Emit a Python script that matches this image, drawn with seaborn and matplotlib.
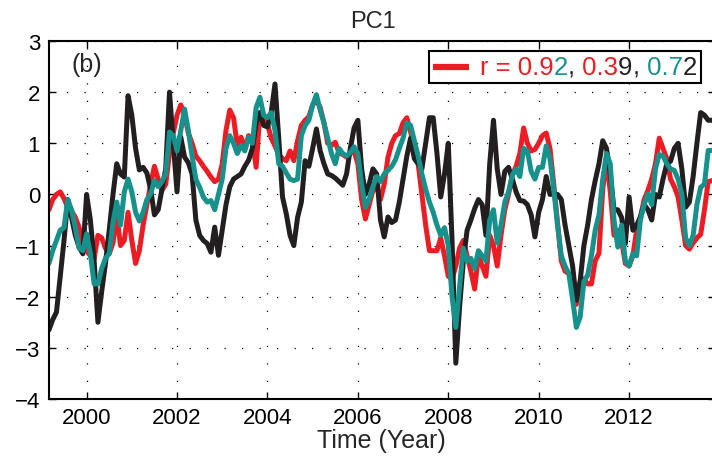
import numpy as np
import pandas as pd
import matplotlib
matplotlib.use("Agg")
import matplotlib.pyplot as plt
import seaborn as sns
from matplotlib.lines import Line2D
from matplotlib.offsetbox import AnchoredOffsetbox, HPacker, TextArea, DrawingArea

# ---- data (monthly, starting March 1999) ----
start_year = 1999 + 2 / 12

pc_black = [
    -2.65, -2.45, -2.3, -1.6, -0.9, -0.1, -0.45, -0.8, -1.03, -1.16,
    0.0, -0.5, -1.3, -2.5, -1.9, -1.35, -0.7, 0.0, 0.6, 0.4,
    0.34, 1.93, 1.55, 0.9, 0.48, 0.53, 0.42, 0.1, -0.4, -0.3,
    0.1, 0.5, 2.0, 1.0, 0.05, 1.12, 0.73, 0.62, 0.4, -0.5,
    -0.8, -0.9, -0.96, -1.13, -0.64, -1.19, -0.7, -0.2, 0.15, 0.3,
    0.35, 0.4, 0.55, 0.67, 0.9, 1.4, 1.6, 1.35, 1.32, 1.6,
    2.16, 1.1, -0.05, -0.38, -0.8, -1.0, -0.45, -0.15, 0.66, 0.55,
    0.9, 1.28, 0.85, 0.6, 0.4, 0.37, 0.32, 0.25, 0.18, 0.4,
    0.9, 1.3, 1.45, 0.5, 0.0, 0.2, 0.5, 0.4, -0.5, -0.83,
    -0.44, -0.55, -0.5, -0.15, 0.3, 0.75, 1.1, 0.7, 0.6, 0.5,
    1.0, 1.5, 1.5, 0.8, -0.05, 0.4, 1.0, -0.9, -3.3, -2.2,
    -1.3, -0.7, -0.5, -0.28, -0.1, -0.2, -0.8, 0.6, 1.45, 0.5,
    0.0, 0.45, 0.53, 0.3, 0.05, -0.12, -0.13, -0.2, -0.4, -0.83,
    -0.35, -0.1, 0.35, 0.0, 0.01, 0.0, -0.1, -0.6, -1.0, -1.4,
    -2.07, -1.7, -1.0, -0.6, -0.1, 0.27, 0.6, 1.05, 0.9, 0.4,
    -0.3, -0.3, -0.45, -0.96, -0.05, -0.7, -0.6, -0.44, -0.2, -0.3,
    -0.5, 0.0, -0.05, 0.3, 0.6, 0.65, 0.9, 1.0, 0.5, -0.25,
    -0.15, 0.35, 1.0, 1.6, 1.55, 1.45, 1.45,
]

pc_red = [
    -0.3, -0.1, 0.0, 0.05, -0.08, -0.25, -0.32, -0.45, -0.64, -1.0,
    -1.1, -1.2, -1.26, -0.8, -0.85, -1.05, -1.16, -0.95, -0.4, -1.0,
    -0.9, -0.35, -0.9, -1.35, -1.1, -0.6, -0.2, 0.2, 0.55, 0.3,
    0.08, 0.2, 0.8, 1.2, 1.55, 1.75, 1.55, 1.2, 1.0, 0.75,
    0.66, 0.55, 0.45, 0.34, 0.25, 0.3, 0.6, 1.25, 1.65, 1.5,
    0.95, 1.12, 0.9, 1.15, 1.06, 0.53, 1.6, 1.55, 1.38, 1.1,
    0.95, 0.78, 0.7, 0.66, 0.85, 0.66, 1.05, 1.35, 1.45, 1.52,
    1.75, 1.85, 1.7, 1.4, 1.0, 0.96, 1.02, 0.82, 0.78, 0.73,
    0.8, 0.85, 0.6, -0.1, -0.48, -0.2, 0.08, 0.14, -0.1, 0.2,
    0.73, 1.0, 1.15, 1.19, 1.4, 1.5, 1.22, 0.95, 0.6, 0.0,
    -0.6, -1.1, -1.1, -1.1, -0.85, -1.2, -1.6, -1.65, -1.4, -1.05,
    -0.9, -1.2, -1.5, -1.85, -1.2, -1.4, -1.6, -0.8, -1.0, -1.4,
    -0.8, -0.3, 0.0, 0.38, 0.55, 0.8, 1.3, 1.0, 0.85, 0.88,
    1.0, 1.15, 1.2, 0.9, 0.2, -0.55, -1.3, -1.5, -1.55, -1.75,
    -2.15, -1.7, -1.65, -1.75, -1.75, -1.3, -1.15, 0.1, 0.7, 0.05,
    -0.8, -0.7, -0.9, -1.35, -1.4, -1.2, -0.7, -0.45, -0.1, 0.08,
    0.3, 0.6, 1.1, 0.9, 0.7, 0.3, 0.15, -0.05, -0.5, -1.0,
    -1.07, -0.95, -0.85, -0.78, -0.3, 0.25, 0.27,
]

pc_teal = [
    -1.35, -1.1, -0.9, -0.7, -0.65, -0.1, -0.3, -0.65, -1.05, -1.1,
    -0.77, -1.16, -1.75, -1.75, -1.45, -1.25, -1.16, -0.55, -0.15, -0.6,
    0.05, 0.3, 0.05, -0.35, -0.52, -0.35, -0.1, 0.01, 0.27, 0.15,
    0.25, 0.4, 1.22, 1.15, 0.85, 1.25, 1.67, 1.25, 0.75, 0.3,
    0.14, -0.05, -0.15, -0.12, -0.3, 0.0, 0.3, 0.9, 1.15, 1.0,
    0.8, 0.96, 0.85, 1.12, 1.0, 1.7, 1.9, 1.55, 1.5, 1.6,
    1.25, 0.6, 0.55, 0.42, 0.3, 0.27, 0.3, 1.15, 1.35, 1.45,
    1.75, 1.95, 1.65, 1.4, 1.1, 0.8, 0.6, 0.9, 0.8, 0.75,
    0.82, 0.93, 0.8, 0.2, -0.25, -0.1, 0.15, 0.35, 0.25, 0.4,
    0.47, 0.55, 0.68, 0.9, 1.1, 1.4, 1.35, 1.05, 0.75, 0.4,
    0.1, -0.15, -0.35, -0.6, -0.8, -0.65, -1.0, -2.0, -2.6, -1.8,
    -1.05, -1.3, -1.25, -1.45, -1.1, -1.2, -1.3, -0.5, -0.3, -0.95,
    -0.6, -0.15, 0.05, 0.38, 0.5, 0.35, 0.9, 0.85, 0.45, 0.3,
    0.53, 0.53, 0.95, 0.7, 0.1, -0.6, -1.2, -1.4, -1.55, -2.05,
    -2.6, -2.4, -1.7, -1.58, -1.2, -0.7, -0.4, 0.3, 0.8, 0.6,
    -0.5, -1.03, -0.6, -1.3, -1.4, -1.16, -1.2, -0.5, -0.2, 0.01,
    -0.2, 0.5, 0.78, 0.75, 0.6, 0.5, 0.47, 0.3, 0.0, -0.85,
    -1.0, -0.8, -0.2, 0.14, 0.2, 0.86, 0.86,
]

series_names = ["red", "black", "teal"]
series_colors = {"red": "#EC1C24", "black": "#231F20", "teal": "#17918C"}
x_ticks = [2000, 2002, 2004, 2006, 2008, 2010, 2012]
y_ticks = [-4, -3, -2, -1, 0, 1, 2, 3]
title_text = "PC1"
xlabel_text = "Time (Year)"
panel_text = "(b)"
legend_parts = [("r = 0.9", "red"), ("2", "teal"), (",", "black"), (" 0.3", "red"),
                ("9", "black"), (",", "black"), (" 0.7", "teal"), ("2", "black")]

n = len(pc_black)
years = start_year + np.arange(n) / 12.0
df = pd.DataFrame({
    "Year": np.concatenate([years, years, years]),
    "PC1": np.concatenate([pc_red, pc_black, pc_teal]),
    "series": ["red"] * n + ["black"] * n + ["teal"] * n,
})

# ---- style ----
sns.set_theme(style="ticks")
plt.rcParams["font.family"] = ["Liberation Sans", "DejaVu Sans"]

W, H = 712, 460
fig = plt.figure(figsize=(W / 100, H / 100), dpi=100)
left_px, right_px, top_px, bottom_px = 48.5, 715, 42, 400
ax = fig.add_axes([left_px / W, 1 - bottom_px / H, (right_px - left_px) / W, (bottom_px - top_px) / H])

sns.lineplot(data=df, x="Year", y="PC1", hue="series", hue_order=series_names,
             palette=series_colors, linewidth=3.6, legend=False, ax=ax,
             estimator=None, sort=False)

ax.set_xlim(1999.157, 2013.9)
ax.set_ylim(-4, 3)
ax.set_xticks(x_ticks)
ax.set_yticks(y_ticks)
ax.set_xticklabels([str(t) for t in x_ticks])
ax.set_yticklabels([f"{t}".replace("-", "\u2212") for t in y_ticks])
ax.grid(True, color="black", linestyle=(0, (1, 13)), linewidth=0.9)
ax.tick_params(direction="in", top=True, right=True, length=5, width=1,
               labelsize=16, colors="black", pad=6)
for s in ax.spines.values():
    s.set_linewidth(1.5)
    s.set_color("black")
ax.set_xlabel(xlabel_text, fontsize=18, labelpad=0)
ax.set_ylabel("")
ax.set_title(title_text, fontsize=17, pad=10)
ax.title.set_x((373 - left_px) / (right_px - left_px))

ax.text(2000.0, 2.55, panel_text, ha="center", va="center", fontsize=18)

# legend box with multicoloured text
da = DrawingArea(26, 10, 0, 0)
da.add_artist(Line2D([0, 26], [5, 5], color=series_colors["red"], linewidth=4.5,
                     solid_capstyle="butt"))
parts = [da]
for txt, col in legend_parts:
    parts.append(TextArea(txt, textprops=dict(color=series_colors[col], fontsize=18.5)))
pack = HPacker(children=parts[:1] + [HPacker(children=parts[1:], align="baseline", pad=0, sep=0)],
               align="center", pad=0, sep=8)
box = AnchoredOffsetbox(loc="upper left", child=pack, pad=0.25, borderpad=0,
                        frameon=True, bbox_to_anchor=(429 / W, 1 - 52 / H),
                        bbox_transform=fig.transFigure)
box.patch.set_edgecolor("black")
box.patch.set_linewidth(1.5)
box.patch.set_boxstyle("square", pad=0)
ax.add_artist(box)

fig.savefig("out.png", dpi=100)
